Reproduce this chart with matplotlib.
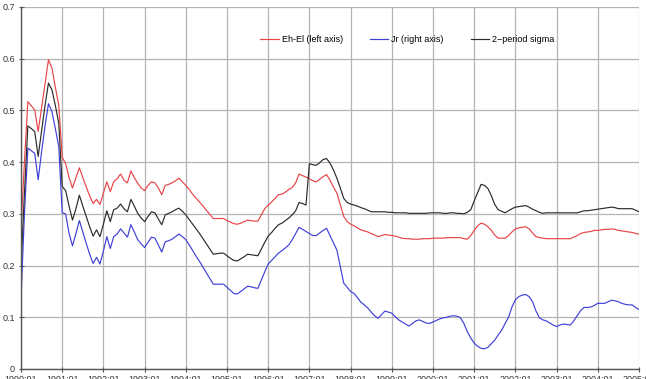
import numpy as np
import matplotlib
matplotlib.use('Agg')
import matplotlib.pyplot as plt

# monthly series, 1990:01 - 2005:01
eh_el = [0.273, 0.400, 0.517, 0.509, 0.501, 0.459, 0.505, 0.550, 0.598, 0.582,
         0.545, 0.510, 0.410, 0.397, 0.370, 0.350, 0.370, 0.389, 0.370, 0.352,
         0.335, 0.320, 0.328, 0.318, 0.340, 0.362, 0.343, 0.362, 0.368, 0.377,
         0.365, 0.360, 0.383, 0.370, 0.359, 0.350, 0.345, 0.355, 0.362, 0.360,
         0.350, 0.337, 0.355, 0.357, 0.360, 0.364, 0.369, 0.362, 0.355, 0.347,
         0.338, 0.330, 0.323, 0.315, 0.307, 0.299, 0.291, 0.291, 0.291, 0.291,
         0.287, 0.284, 0.281, 0.280, 0.282, 0.285, 0.288, 0.287, 0.286, 0.286,
         0.298, 0.310, 0.317, 0.323, 0.330, 0.337, 0.338, 0.342, 0.347, 0.351,
         0.360, 0.377, 0.374, 0.371, 0.368, 0.364, 0.362, 0.367, 0.372, 0.376,
         0.365, 0.352, 0.340, 0.318, 0.295, 0.285, 0.280, 0.277, 0.273, 0.269,
         0.267, 0.265, 0.262, 0.259, 0.256, 0.258, 0.260, 0.259, 0.258, 0.257,
         0.255, 0.253, 0.252, 0.252, 0.251, 0.251, 0.251, 0.252, 0.252, 0.252,
         0.253, 0.253, 0.253, 0.253, 0.254, 0.254, 0.254, 0.254, 0.254, 0.252,
         0.251, 0.258, 0.268, 0.277, 0.282, 0.280, 0.275, 0.268, 0.259, 0.253,
         0.253, 0.253, 0.258, 0.265, 0.271, 0.273, 0.274, 0.275, 0.271, 0.263,
         0.256, 0.254, 0.253, 0.252, 0.252, 0.252, 0.252, 0.252, 0.252, 0.252,
         0.252, 0.255, 0.258, 0.262, 0.264, 0.265, 0.266, 0.268, 0.268, 0.269,
         0.270, 0.270, 0.271, 0.270, 0.268, 0.267, 0.266, 0.265, 0.264, 0.262,
         0.261]

jr = [0.137, 0.300, 0.427, 0.422, 0.417, 0.366, 0.420, 0.470, 0.513, 0.498,
      0.465, 0.430, 0.302, 0.300, 0.262, 0.238, 0.262, 0.287, 0.265, 0.243,
      0.222, 0.204, 0.216, 0.203, 0.228, 0.256, 0.233, 0.256, 0.261, 0.271,
      0.263, 0.255, 0.279, 0.265, 0.250, 0.242, 0.235, 0.245, 0.255, 0.253,
      0.240, 0.226, 0.246, 0.248, 0.251, 0.256, 0.261, 0.256, 0.250, 0.240,
      0.229, 0.218, 0.208, 0.197, 0.186, 0.175, 0.164, 0.164, 0.164, 0.164,
      0.158, 0.152, 0.146, 0.145, 0.150, 0.155, 0.160, 0.159, 0.157, 0.156,
      0.172, 0.188, 0.203, 0.210, 0.217, 0.224, 0.229, 0.234, 0.240, 0.250,
      0.262, 0.274, 0.270, 0.266, 0.262, 0.258, 0.258, 0.263, 0.268, 0.272,
      0.258, 0.244, 0.230, 0.198, 0.166, 0.158, 0.150, 0.146, 0.138, 0.129,
      0.124, 0.118, 0.110, 0.103, 0.098, 0.105, 0.112, 0.110, 0.108, 0.101,
      0.095, 0.091, 0.087, 0.083, 0.088, 0.093, 0.095, 0.092, 0.089, 0.088,
      0.091, 0.094, 0.097, 0.099, 0.100, 0.102, 0.103, 0.102, 0.099, 0.088,
      0.072, 0.060, 0.050, 0.044, 0.040, 0.039, 0.042, 0.049, 0.056, 0.066,
      0.075, 0.088, 0.100, 0.120, 0.134, 0.140, 0.143, 0.144, 0.140, 0.130,
      0.112, 0.099, 0.095, 0.093, 0.089, 0.085, 0.082, 0.085, 0.087, 0.086,
      0.085, 0.093, 0.103, 0.113, 0.119, 0.119, 0.120, 0.123, 0.127, 0.127,
      0.127, 0.130, 0.133, 0.132, 0.130, 0.127, 0.125, 0.124, 0.124, 0.119,
      0.115]

sigma2 = [0.198, 0.340, 0.470, 0.465, 0.459, 0.411, 0.460, 0.510, 0.553, 0.540,
          0.510, 0.475, 0.353, 0.345, 0.315, 0.288, 0.310, 0.336, 0.315, 0.295,
          0.275, 0.257, 0.269, 0.256, 0.280, 0.306, 0.285, 0.308, 0.311, 0.319,
          0.310, 0.304, 0.328, 0.315, 0.301, 0.292, 0.285, 0.295, 0.304, 0.302,
          0.290, 0.279, 0.298, 0.301, 0.304, 0.308, 0.311, 0.305, 0.298, 0.289,
          0.280, 0.271, 0.262, 0.252, 0.242, 0.232, 0.222, 0.223, 0.224, 0.224,
          0.219, 0.214, 0.210, 0.209, 0.213, 0.217, 0.222, 0.221, 0.220, 0.219,
          0.232, 0.245, 0.257, 0.264, 0.272, 0.279, 0.282, 0.287, 0.292, 0.298,
          0.306, 0.322, 0.320, 0.317, 0.397, 0.395, 0.394, 0.399, 0.405, 0.407,
          0.398, 0.385, 0.369, 0.350, 0.330, 0.322, 0.319, 0.317, 0.315, 0.312,
          0.310, 0.307, 0.304, 0.304, 0.304, 0.304, 0.304, 0.303, 0.303, 0.302,
          0.302, 0.302, 0.302, 0.301, 0.301, 0.301, 0.301, 0.301, 0.301, 0.302,
          0.302, 0.302, 0.302, 0.301, 0.301, 0.302, 0.302, 0.301, 0.301, 0.300,
          0.303, 0.308, 0.325, 0.341, 0.357, 0.355, 0.349, 0.335, 0.318, 0.308,
          0.305, 0.302, 0.306, 0.310, 0.313, 0.314, 0.315, 0.316, 0.313, 0.309,
          0.306, 0.303, 0.301, 0.302, 0.302, 0.302, 0.302, 0.302, 0.302, 0.302,
          0.302, 0.302, 0.302, 0.304, 0.306, 0.306, 0.307, 0.308, 0.309, 0.310,
          0.311, 0.312, 0.313, 0.312, 0.310, 0.310, 0.310, 0.310, 0.310, 0.307,
          0.304]

years = list(range(1990, 2006))
tick_labels = [str(y) + ':01' for y in years]

plt.rcParams['font.family'] = ['Liberation Sans', 'DejaVu Sans']

fig = plt.figure(figsize=(6.46, 3.79), dpi=100)
ax = fig.add_axes([21/646, 10/379, 618/646, 362/379])

n = np.arange(len(eh_el))
ax.plot(n, eh_el, color='#e84448', lw=0.85, label='Eh-El (left axis)')
ax.plot(n, jr, color='#4040d8', lw=0.85, label='Jr (right axis)')
ax.plot(n, sigma2, color='#2b2b2b', lw=0.85, label='2\u2212period sigma')

ax.set_xlim(0, 180)
ax.set_ylim(0, 0.7)
ax.set_xticks(np.arange(0, 181, 12))
ax.set_xticklabels(tick_labels)
ax.set_yticks(np.arange(0, 0.71, 0.1))
ax.set_yticklabels(['0', '0.1', '0.2', '0.3', '0.4', '0.5', '0.6', '0.7'])
ax.tick_params(direction='inout', length=3.6, width=0.8, color='#555555',
               labelsize=6.5, pad=2.5, labelcolor='#333333')

ax.grid(True, color='#b4b4b4', lw=0.9)
ax.set_axisbelow(True)
for s in ['top', 'right']:
    ax.spines[s].set_visible(False)
for s in ['left', 'bottom']:
    ax.spines[s].set_color('#555555')
    ax.spines[s].set_linewidth(1.0)

ax.legend(loc='center', bbox_to_anchor=(0.625, 0.909), ncol=3, frameon=False,
          fontsize=6.5, handlelength=2.0, handletextpad=0.35, columnspacing=3.0)

plt.savefig('out.png', dpi=100)
